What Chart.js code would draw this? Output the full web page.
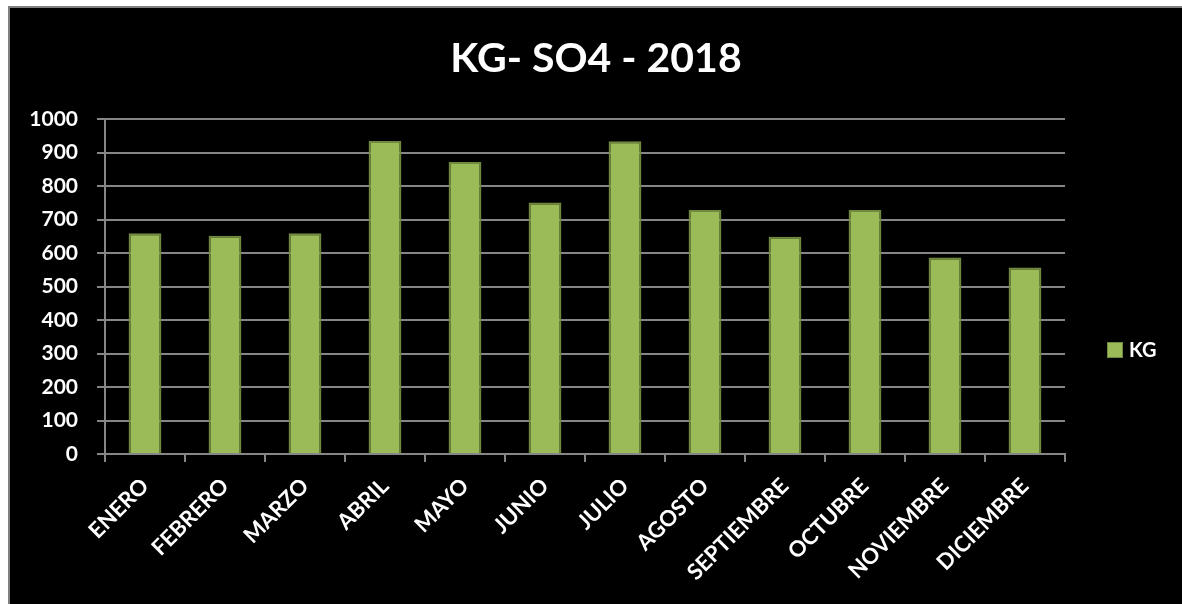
<!DOCTYPE html>
<html>
<head>
<meta charset="utf-8">
<script src="https://cdn.jsdelivr.net/npm/chart.js@4/dist/chart.umd.min.js"></script>
<style>
  html, body { margin: 0; padding: 0; background: #fff; overflow: hidden; }
  #wrap {
    position: absolute; left: 8px; top: 6px;
    width: 1172px; height: 596px;
    border-top: 2px solid #808080; border-left: 2px solid #808080;
    background: #000;
  }
  canvas { display: block; }
</style>
</head>
<body>
<div id="wrap"><canvas id="chart" width="1172" height="596"></canvas></div>
<script>
// data
const months = ["ENERO", "FEBRERO", "MARZO", "ABRIL", "MAYO", "JUNIO",
  "JULIO", "AGOSTO", "SEPTIEMBRE", "OCTUBRE", "NOVIEMBRE", "DICIEMBRE"];
const kgValues = [659, 652, 659, 935, 872, 751, 934, 729, 649, 729, 587, 557];
const seriesName = "KG";
const chartTitle = "KG- SO4 - 2018";

const FONT = "Lato, 'Open Sans', sans-serif";
const GREEN = "#9bbb59";
const GREEN_EDGE = "#71893f";
const GRID = "#868686";

// legend drawn by hand so it can sit where Excel put it
const sideLegend = {
  id: "sideLegend",
  afterDraw(chart) {
    const ctx = chart.ctx;
    const ds = chart.data.datasets[0];
    const x = 1097, y = 334;
    ctx.save();
    ctx.fillStyle = ds.backgroundColor;
    ctx.fillRect(x, y, 16, 16);
    ctx.strokeStyle = ds.borderColor;
    ctx.lineWidth = 1;
    ctx.strokeRect(x + 0.5, y + 0.5, 15, 15);
    ctx.fillStyle = "#fff";
    ctx.font = "bold 20px " + FONT;
    ctx.textBaseline = "middle";
    ctx.textAlign = "left";
    ctx.fillText(ds.label, x + 22, y + 9);
    ctx.restore();
  }
};

new Chart(document.getElementById("chart"), {
  type: "bar",
  data: {
    labels: months,
    datasets: [{
      label: seriesName,
      data: kgValues,
      backgroundColor: GREEN,
      borderColor: GREEN_EDGE,
      borderWidth: 2,
      barPercentage: 0.41,
      categoryPercentage: 1.0,
    }],
  },
  options: {
    responsive: false,
    animation: false,
    plugins: {
      legend: { display: false },
      tooltip: { enabled: false },
      title: {
        display: true,
        text: chartTitle,
        color: "#fff",
        font: { family: FONT, size: 41, weight: "bold", lineHeight: 1.2 },
        padding: { top: 26, bottom: 36 },
      },
    },
    scales: {
      x: {
        offset: true,
        grid: {
          offset: true,
          drawOnChartArea: false,
          drawTicks: true,
          tickLength: 8,
          color: GRID,
          lineWidth: 2,
        },
        border: { color: GRID, width: 2 },
        ticks: {
          color: "#fff",
          font: { family: FONT, size: 22, weight: "bold" },
          minRotation: 45,
          maxRotation: 45,
          padding: 11,
          autoSkip: false,
        },
        afterFit(scale) { scale.height = 150; },
      },
      y: {
        min: 0,
        max: 1000,
        ticks: {
          stepSize: 100,
          color: "#fff",
          font: { family: FONT, size: 21, weight: "bold" },
          padding: 19,
          callback: (v) => String(v),
        },
        grid: { color: GRID, lineWidth: 2, tickLength: 8 },
        border: { color: GRID, width: 2 },
        afterFit(scale) { scale.width = 95; },
      },
      // empty right-hand axis: only reserves the legend column
      side: {
        position: "right",
        display: true,
        grid: { display: false },
        border: { display: false },
        ticks: { display: false },
        afterFit(scale) { scale.width = 117; },
      },
    },
  },
  plugins: [sideLegend],
});
</script>
</body>
</html>
